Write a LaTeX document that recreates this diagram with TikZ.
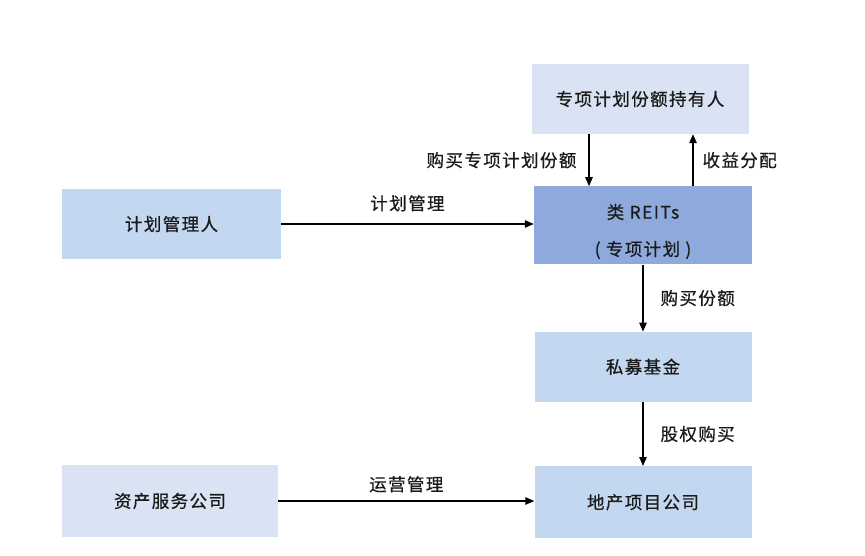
\documentclass[tikz,border=0pt]{standalone}
\usepackage{fontspec}
\usepackage{tikz}
\usetikzlibrary{arrows.meta, positioning}
\newfontfamily\cjk{Noto Sans CJK SC}[LetterSpace=8, FakeBold=0.6]
\definecolor{lavender}{HTML}{DAE3F3}
\definecolor{paleblue}{HTML}{C3D8F0}
\definecolor{midblue}{HTML}{8EA9DB}
\definecolor{inkgray}{HTML}{1A1A1A}
\tikzset{
  block/.style={rectangle, minimum width=217pt, minimum height=70pt,
    inner sep=0pt, align=center, text=inkgray,
    font=\cjk\fontsize{17.5}{37}\selectfont},
  lbl/.style={inner sep=0pt, text=inkgray, font=\cjk\fontsize{17.5}{20}\selectfont},
  arr/.style={-{Triangle[length=9pt, width=7.5pt]}, line width=1.2pt, draw=black},
}

\begin{document}
\begin{tikzpicture}[x=1pt, y=-1pt]
  \useasboundingbox (0,0) rectangle (865,556);

  % right column
  \node[block, fill=lavender] (holder) at (640,99) {专项计划份额持有人};
  \node[block, fill=midblue, minimum height=78pt, minimum width=218pt,
    below=52pt of holder.south, anchor=north, xshift=3pt] (reits) {\rule{0pt}{27pt}类 REITs\\( 专项计划 )};
  \node[block, fill=paleblue, below=67pt of reits.south, anchor=north] (fund) {私募基金};
  \node[block, fill=paleblue, minimum height=72pt, below=64pt of fund.south, anchor=north] (company) {地产项目公司};

  % left column
  \node[block, fill=paleblue, minimum width=219pt] (manager) at (171.5,224) {计划管理人};
  \node[block, fill=lavender, minimum width=216pt, minimum height=72pt] (service) at (170,501) {资产服务公司};

  \draw[arr] ([xshift=-51pt]holder.south) -- ([xshift=-51pt]holder.south |- reits.north)
    node[lbl, midway, left=12pt] {购买专项计划份额};
  \draw[arr] ([xshift=50pt]reits.north) -- ([xshift=50pt]reits.north |- holder.south)
    node[lbl, midway, right=9pt] {收益分配};
  \draw[arr] (manager.east) -- (manager.east -| reits.west)
    node[lbl, midway, above=12pt] {计划管理};
  \draw[arr] (reits.south) -- (fund.north)
    node[lbl, midway, right=17pt] {购买份额};
  \draw[arr] (fund.south) -- (company.north)
    node[lbl, midway, right=17pt] {股权购买};
  \draw[arr] (service.east) -- (service.east -| company.west)
    node[lbl, midway, above=8pt] {运营管理};
\end{tikzpicture}
\end{document}
